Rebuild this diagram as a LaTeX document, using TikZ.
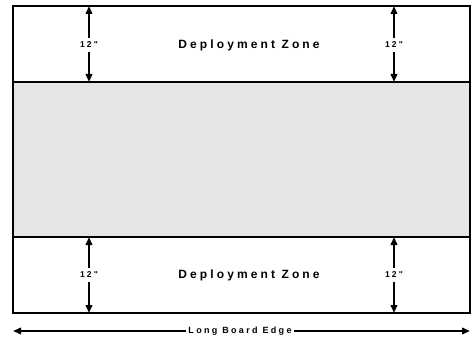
\documentclass[tikz,border=0pt]{standalone}
\usepackage{fontspec}
\setmainfont{Liberation Sans}
\newfontfamily\zonefont[LetterSpace=26]{Liberation Sans}
\usetikzlibrary{arrows.meta}
\begin{document}
\begin{tikzpicture}[x=1pt,y=-1pt,
  board/.style={line width=2pt},
  dim/.style={line width=2pt,-{Triangle[length=8pt,width=6.5pt]}},
  zone/.style={font=\zonefont\bfseries\fontsize{12}{14}\selectfont,inner sep=0pt},
  meas/.style={font=\zonefont\bfseries\fontsize{8.5}{10}\selectfont,inner sep=4pt},
  edge/.style={font=\zonefont\bfseries\fontsize{9}{10}\selectfont,inner sep=2pt}]
\useasboundingbox (0,0) rectangle (472,337);
\fill[fill={rgb,255:red,229;green,229;blue,229}] (13,82) rectangle (470,237);
\draw[board] (13,6) rectangle (470,313);
\draw[board] (13,82) -- (470,82);
\draw[board] (13,237) -- (470,237);
% zones
\node[zone] (zt) at (249,45) {Deployment Zone};
\node[zone] (zb) at (249,275) {Deployment Zone};
% measurements
\coordinate (a1t) at (89,6); \coordinate (a1b) at (89,82);
\coordinate (a2t) at (394,6); \coordinate (a2b) at (394,82);
\coordinate (a3t) at (89,237); \coordinate (a3b) at (89,313);
\coordinate (a4t) at (394,237); \coordinate (a4b) at (394,313);
\node[meas] (m1) at (89,45) {12"};
\node[meas] (m2) at (394,45) {12"};
\node[meas] (m3) at (89,275) {12"};
\node[meas] (m4) at (394,275) {12"};
\foreach \m/\t/\b in {m1/a1t/a1b,m2/a2t/a2b,m3/a3t/a3b,m4/a4t/a4b}{
  \draw[dim] (\m.north) -- (\t);
  \draw[dim] (\m.south) -- (\b);
}
% long edge
\node[edge] (le) at (240,331) {Long Board Edge};
\coordinate (lel) at (13,331); \coordinate (ler) at (470,331);
\draw[dim] (le.west) -- (lel);
\draw[dim] (le.east) -- (ler);
\end{tikzpicture}
\end{document}
